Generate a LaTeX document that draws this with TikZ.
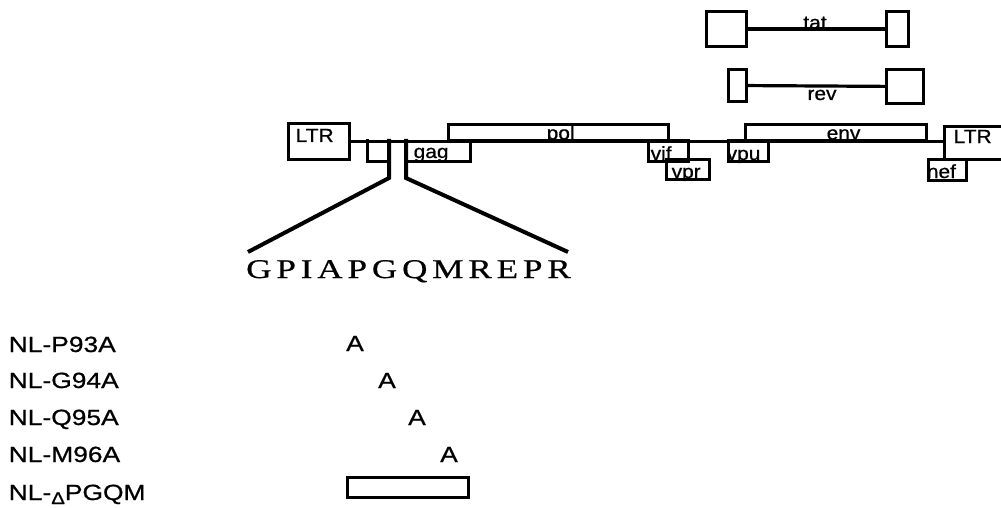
\documentclass[tikz,border=0pt]{standalone}
\usepackage{fontspec}
\newfontfamily\genefont[FakeStretch=1.1,FakeBold=0.8]{Liberation Sans}
\newfontfamily\seqfont[FakeStretch=1.3,LetterSpace=18,FakeBold=0.6]{Liberation Serif}
\newfontfamily\mutfont[FakeStretch=1.2,FakeBold=0.8]{Liberation Sans}
\tikzset{
  boxline/.style={line width=3pt},
  box/.style={boxline, draw, inner sep=0pt, anchor=north west},
  spine/.style={line width=3.2pt},
  cut/.style={line width=4pt},
  genelbl/.style={inner sep=0pt, font=\genefont\fontsize{19}{19}\selectfont},
  mut/.style={inner sep=0pt, font=\mutfont\fontsize{22}{22}\selectfont},
  seq/.style={inner sep=0pt, font=\seqfont\fontsize{27}{27}\selectfont},
}
\begin{document}
\begin{tikzpicture}[x=1pt, y=-1pt]
        \useasboundingbox (0,0) rectangle (1001,508);
        \clip (0,0) rectangle (1001,508);

        % spliced tat and rev
        \node[box, minimum width=40, minimum height=35] (tatA) at (705,10) {};
        \node[box, minimum width=22, minimum height=35] (tatB) at (885,10) {};
        \draw[spine] (tatA) -- (tatB);
        \node[genelbl, anchor=base] (tat) at (815,29) {tat};
        \node[box, minimum width=18, minimum height=32] (revA) at (727,68) {};
        \node[box, minimum width=37, minimum height=34] (revB) at (885,68) {};
        \draw[spine] (revA) -- (revB);
        \node[genelbl, anchor=base] (rev) at (822,100) {rev};

        % long terminal repeats and backbone
        \node[box, minimum width=61, minimum height=36] (ltrL) at (287,122) {};
        \node[box, minimum width=70, minimum height=33] (ltrR) at (943,125) {};
        \draw[spine] (ltrL.east) -- (ltrL.east -| ltrR.west);

        % genes above and below the backbone
        \node[box, minimum width=220, minimum height=16] (pol) at (447,123) {};
        \node[box, minimum width=40, minimum height=21] (vif) at (647,139) {};
        \node[box, minimum width=43, minimum height=20] (vpr) at (665,158) {};
        \node[box, minimum width=40, minimum height=21] (vpu) at (727,139) {};
        \node[box, minimum width=181, minimum height=16] (env) at (744,123) {};
        \node[box, minimum width=38, minimum height=21] (nef) at (927,158) {};

        % gag with the cut-out region
        \node[box, draw=none, minimum width=100, minimum height=19] (gag) at (367,139) {};
        \coordinate (cutL) at (389,139);
        \coordinate (cutR) at (406,139);
        \coordinate (seqL) at (248,252);
        \coordinate (seqR) at (568,252);
        \draw[boxline] (gag.north west) -- (gag.south west) -- (cutL |- gag.south);
        \draw[boxline] (cutR |- gag.south) -- (gag.south east) -- (gag.north east);
        \draw[cut] (cutL) -- ++(0,39) -- (seqL);
        \draw[cut] (cutR) -- ++(0,39) -- (seqR);
        \node[seq, anchor=base west] (seq) at (246,278) {GPIAPGQMREPR};

        % gene names, cut at the box edges
        \begin{scope}
            \clip (ltrL.north west) rectangle (ltrL.south east)
                  (ltrR.north west) rectangle (ltrR.south east)
                  (gag.north west) rectangle (gag.south east)
                  (pol.north west) rectangle (pol.south east)
                  (vif.north west) rectangle (vif.south east)
                  (vpr.north west) rectangle (vpr.south east)
                  (vpu.north west) rectangle (vpu.south east)
                  (env.north west) rectangle (env.south east)
                  (nef.north west) rectangle (nef.south east);
            \node[genelbl, anchor=base west] (ltrLname) at (295.5,142) {LTR};
            \node[genelbl, anchor=base west] (ltrRname) at (953.5,143) {LTR};
            \node[genelbl, anchor=base west] (gagname) at (413.5,158) {gag};
            \node[genelbl, anchor=base west] (polname) at (546.5,139.5) {pol};
            \node[genelbl, anchor=base west] (vifname) at (650.5,160) {vif};
            \node[genelbl, anchor=base west] (vprname) at (671.5,178) {vpr};
            \node[genelbl, anchor=base west] (vpuname) at (726.5,160) {vpu};
            \node[genelbl, anchor=base west] (envname) at (826.5,139.5) {env};
            \node[genelbl, anchor=base west] (nefname) at (926.7,178) {nef};
        \end{scope}

        % mutants
        \foreach \name/\y in {P93A/352, G94A/388, Q95A/425, M96A/462}
            \node[mut, anchor=base west] (lab\name) at (8.5,\y) {NL-\name};
        \foreach \name/\x/\y in {P93A/355/351, G94A/387/388, Q95A/417/425, M96A/449/462}
            \node[mut, anchor=base] (ala\name) at (\x,\y) {A};
        \node[mut, anchor=base west] (labDel) at (8.5,500) {NL-\raisebox{-4pt}{\fontsize{17}{17}\selectfont Δ}PGQM};
        \node[box, anchor=center, minimum width=121, minimum height=20] (delbox) at (407.5,487) {};
    \end{tikzpicture}
\end{document}
